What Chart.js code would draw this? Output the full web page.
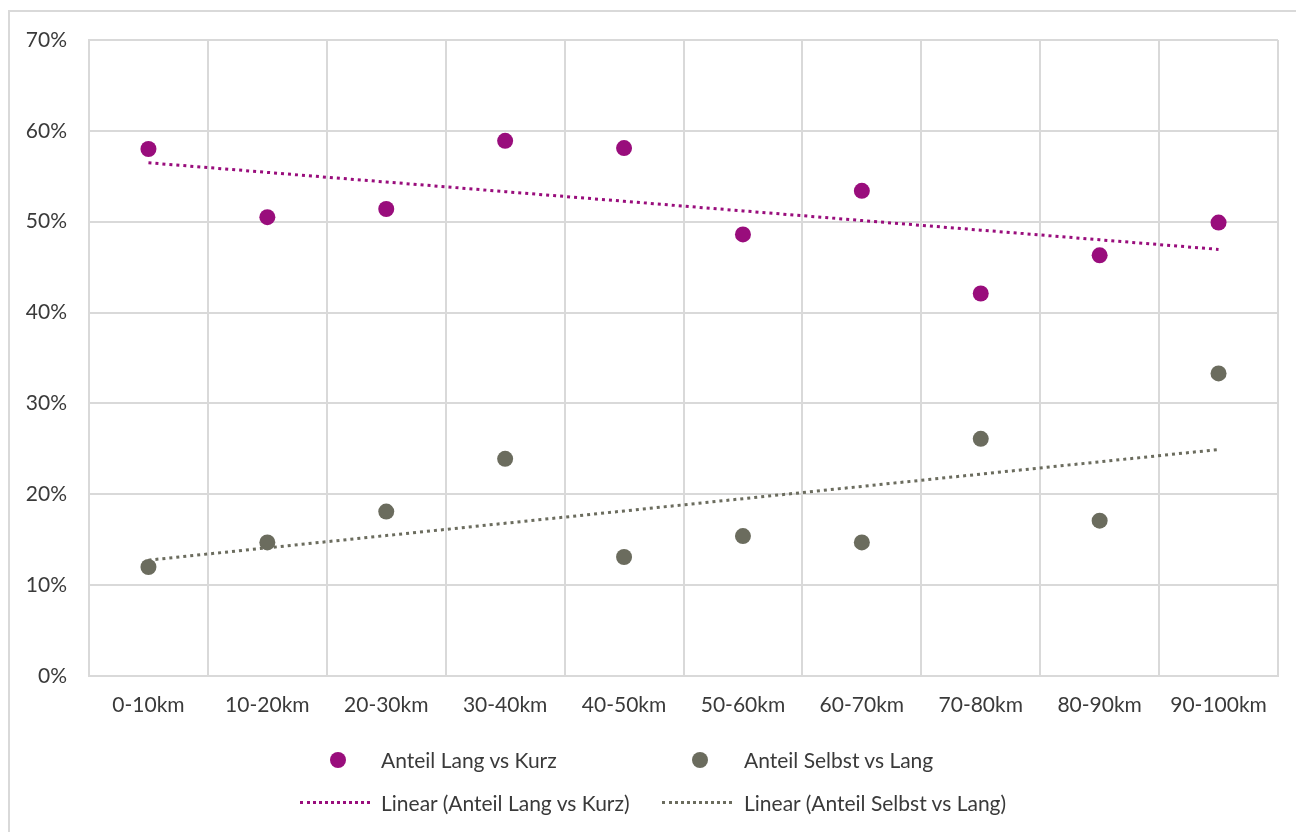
<!DOCTYPE html>
<html lang="de">
<head>
    <meta charset="UTF-8">
    <title>Anteil nach Entfernung</title>
    <script src="https://cdn.jsdelivr.net/npm/chart.js"></script>
    <style>
        html, body {
            margin: 0;
            padding: 0;
            background: #ffffff;
            overflow: hidden;
        }

        .frame {
            position: absolute;
            left: 8px;
            top: 10px;
            width: 1400px;
            height: 900px;
            border: 2px solid #d9d9d9;
            box-sizing: border-box;
        }

        .wrap {
            position: absolute;
            left: 0;
            top: 0;
            width: 1296px;
            height: 832px;
        }

        .legend {
            position: absolute;
            font-family: Lato, sans-serif;
            font-size: 21px;
            color: #3a3a3a;
        }

        .legend .item {
            position: absolute;
            white-space: nowrap;
            line-height: 24px;
        }

        .dot {
            position: absolute;
            width: 16px;
            height: 16px;
            border-radius: 50%;
        }

        .dash {
            position: absolute;
            width: 70px;
            height: 0;
            border-top: 3px dotted;
        }
    </style>
</head>
<body>

<div class="frame"></div>
<div class="wrap">
    <canvas id="chart" width="1296" height="832"></canvas>
</div>

<div class="legend">
    <span class="dot" style="left:330px; top:752px; background:#990d7c;"></span>
    <span class="item" style="left:381px; top:748px;">Anteil Lang vs Kurz</span>
    <span class="dot" style="left:692px; top:752px; background:#6b6c5e;"></span>
    <span class="item" style="left:744px; top:748px;">Anteil Selbst vs Lang</span>

    <span class="dash" style="left:300px; top:801px; border-color:#990d7c;"></span>
    <span class="item" style="left:381px; top:791px;">Linear (Anteil Lang vs Kurz)</span>
    <span class="dash" style="left:662px; top:801px; border-color:#6b6c5e;"></span>
    <span class="item" style="left:744px; top:791px;">Linear (Anteil Selbst vs Lang)</span>
</div>

<script>
    const categories = ['0-10km', '10-20km', '20-30km', '30-40km', '40-50km',
        '50-60km', '60-70km', '70-80km', '80-90km', '90-100km'];

    // Werte in Prozent
    const langVsKurz = [58.0, 50.5, 51.4, 58.9, 58.1, 48.6, 53.4, 42.1, 46.3, 49.9];
    const selbstVsLang = [12.0, 14.7, 18.1, 23.9, 13.1, 15.4, 14.7, 26.1, 17.1, 33.3];

    const yTicks = [0, 10, 20, 30, 40, 50, 60, 70];

    const purple = '#990d7c';
    const grey = '#6b6c5e';

    // lineare Trendlinie (kleinste Quadrate), wie Excel sie zeichnet
    function linearTrend(values) {
        const n = values.length;
        const xs = values.map((v, i) => i + 1);
        const mx = xs.reduce((a, b) => a + b, 0) / n;
        const my = values.reduce((a, b) => a + b, 0) / n;
        let sxy = 0, sxx = 0;
        for (let i = 0; i < n; i++) {
            sxy += (xs[i] - mx) * (values[i] - my);
            sxx += (xs[i] - mx) * (xs[i] - mx);
        }
        const slope = sxy / sxx;
        return xs.map(x => my + slope * (x - mx));
    }

    new Chart(document.getElementById('chart').getContext('2d'), {
        type: 'line',
        data: {
            labels: categories,
            datasets: [
                {
                    label: 'Linear (Anteil Lang vs Kurz)',
                    data: linearTrend(langVsKurz),
                    borderColor: purple,
                    borderWidth: 3,
                    borderDash: [3, 4],
                    pointRadius: 0,
                    fill: false,
                    order: 2
                },
                {
                    label: 'Linear (Anteil Selbst vs Lang)',
                    data: linearTrend(selbstVsLang),
                    borderColor: grey,
                    borderWidth: 3,
                    borderDash: [3, 4],
                    pointRadius: 0,
                    fill: false,
                    order: 2
                },
                {
                    label: 'Anteil Lang vs Kurz',
                    data: langVsKurz,
                    showLine: false,
                    pointRadius: 8,
                    pointBackgroundColor: purple,
                    pointBorderColor: purple,
                    pointBorderWidth: 0,
                    order: 1
                },
                {
                    label: 'Anteil Selbst vs Lang',
                    data: selbstVsLang,
                    showLine: false,
                    pointRadius: 8,
                    pointBackgroundColor: grey,
                    pointBorderColor: grey,
                    pointBorderWidth: 0,
                    order: 1
                }
            ]
        },
        options: {
            responsive: false,
            animation: false,
            layout: {padding: {top: 40, right: 18, bottom: 96, left: 0}},
            plugins: {
                legend: {display: false},
                tooltip: {enabled: false}
            },
            scales: {
                x: {
                    offset: true,
                    grid: {offset: true, color: '#d9d9d9', lineWidth: 2, drawTicks: false},
                    border: {color: '#d9d9d9', width: 2},
                    ticks: {
                        color: '#3a3a3a',
                        font: {family: 'Lato', size: 21},
                        padding: 17,
                        maxRotation: 0,
                        autoSkip: false
                    },
                    afterFit: (scale) => { scale.height = 60; }
                },
                y: {
                    min: 0,
                    max: 70,
                    afterBuildTicks: (scale) => { scale.ticks = yTicks.map(v => ({value: v})); },
                    grid: {color: '#d9d9d9', lineWidth: 2, drawTicks: false},
                    border: {color: '#d9d9d9', width: 2},
                    ticks: {
                        color: '#3a3a3a',
                        font: {family: 'Lato', size: 21},
                        padding: 22,
                        callback: (v) => v + '%'
                    },
                    afterFit: (scale) => { scale.width = 89; }
                }
            }
        }
    });
</script>

</body>
</html>
